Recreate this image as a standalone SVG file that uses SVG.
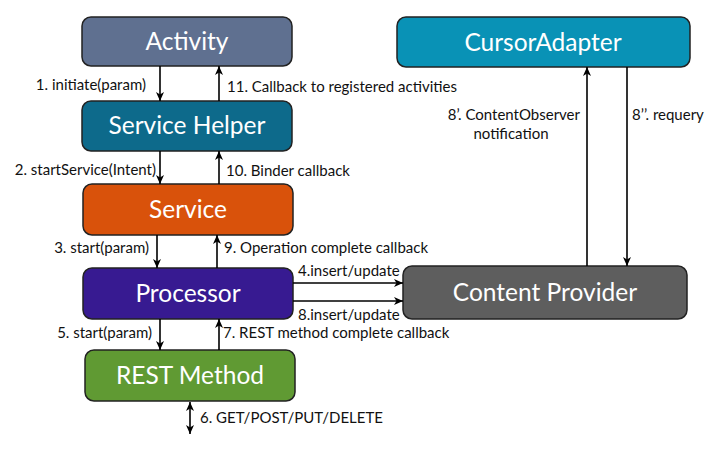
<svg xmlns="http://www.w3.org/2000/svg" width="720" height="450" viewBox="0 0 720 450">
<defs>
<marker id="ah" markerWidth="10" markerHeight="10" refX="9" refY="5" orient="auto-start-reverse" markerUnits="userSpaceOnUse">
<path d="M0,1 L9,5 L0,9 L2.5,5 Z" fill="#000"/>
</marker>
</defs>
<style>
.box{stroke:#222;stroke-width:1.5}
.nt{font-family:Lato,"Open Sans","Liberation Sans",sans-serif;font-size:24.5px;fill:#fff;text-anchor:middle}
.lb{font-family:Lato,"Open Sans","Liberation Sans",sans-serif;font-size:15px;fill:#111}
.c{stroke:#000;stroke-width:1.6;fill:none;marker-end:url(#ah)}
</style>
<rect width="720" height="450" fill="#fff"/>
<g id="activity"><rect class="box" x="82" y="17" width="210" height="49" rx="9" fill="#5f7090"/><text class="nt" x="187" y="50">Activity</text></g>
<g id="service-helper"><rect class="box" x="82" y="101" width="210" height="50" rx="9" fill="#0d6a8b"/><text class="nt" x="187" y="134">Service Helper</text></g>
<g id="service"><rect class="box" x="83" y="184" width="210" height="51" rx="9" fill="#d9520b"/><text class="nt" x="188" y="218">Service</text></g>
<g id="processor"><rect class="box" x="83" y="268" width="210" height="51" rx="9" fill="#371a91"/><text class="nt" x="188" y="302">Processor</text></g>
<g id="rest-method"><rect class="box" x="85" y="350" width="210" height="51" rx="9" fill="#609a33"/><text class="nt" x="190" y="384">REST Method</text></g>
<g id="content-provider"><rect class="box" x="403" y="266" width="284" height="53" rx="9" fill="#5e5e5e"/><text class="nt" x="545" y="301">Content Provider</text></g>
<g id="cursor-adapter"><rect class="box" x="397" y="17" width="293" height="50" rx="9" fill="#0992b6"/><text class="nt" x="543" y="51">CursorAdapter</text></g>
<g id="connectors">
<line class="c" x1="160" y1="66" x2="160" y2="101"/>
<line class="c" x1="219" y1="101" x2="219" y2="66"/>
<line class="c" x1="160" y1="151" x2="160" y2="184"/>
<line class="c" x1="219" y1="184" x2="219" y2="151"/>
<line class="c" x1="157" y1="235" x2="157" y2="268"/>
<line class="c" x1="217" y1="268" x2="217" y2="235"/>
<line class="c" x1="160" y1="319" x2="160" y2="350"/>
<line class="c" x1="219" y1="350" x2="219" y2="319"/>
<line class="c" x1="293" y1="283" x2="403" y2="283"/>
<line class="c" x1="293" y1="301" x2="403" y2="301"/>
<line class="c" x1="587" y1="266" x2="587" y2="67"/>
<line class="c" x1="627" y1="67" x2="627" y2="266"/>
<line class="c" x1="190" y1="402" x2="190" y2="434" style="marker-start:url(#ah)"/>
</g>
<g id="labels">
<text class="lb" x="146" y="90" text-anchor="end">1. initiate(param)</text>
<text class="lb" x="227" y="92">11. Callback to registered activities</text>
<text class="lb" x="156" y="175" text-anchor="end">2. startService(Intent)</text>
<text class="lb" x="226" y="176">10. Binder callback</text>
<text class="lb" x="149" y="253" text-anchor="end">3. start(param)</text>
<text class="lb" x="224" y="253">9. Operation complete callback</text>
<text class="lb" x="298" y="276">4.insert/update</text>
<text class="lb" x="298" y="320">8.insert/update</text>
<text class="lb" x="152" y="338" text-anchor="end">5. start(param)</text>
<text class="lb" x="223" y="338">7. REST method complete callback</text>
<text class="lb" x="200" y="423">6. GET/POST/PUT/DELETE</text>
<text class="lb" x="580" y="120" text-anchor="end">8’. ContentObserver</text>
<text class="lb" x="511" y="139" text-anchor="middle">notification</text>
<text class="lb" x="632" y="120">8’’. requery</text>
</g>
</svg>
